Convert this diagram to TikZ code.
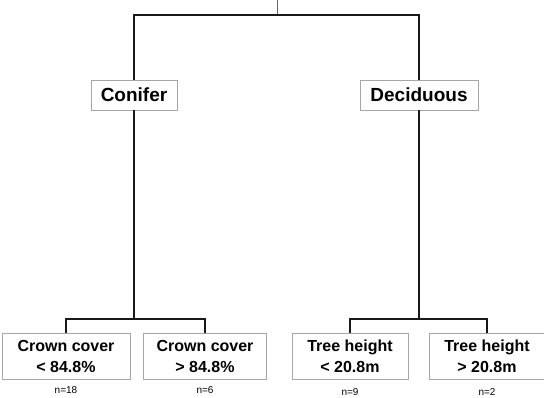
\documentclass[tikz,border=0pt]{standalone}
\usepackage{fontspec}
\setmainfont{Liberation Sans}
\usepackage{tikz}
\usetikzlibrary{positioning}

\tikzset{
  branch/.style={line width=2.6pt,black!90},
  catbox/.style={draw=black!35,line width=0.8pt,fill=white,minimum height=30pt,inner sep=0pt,font=\fontsize{19}{21}\selectfont\bfseries},
  leafbox/.style={draw=black!35,line width=0.8pt,fill=white,minimum height=46pt,inner sep=0pt,align=center,font=\fontsize{16}{21}\selectfont\bfseries},
  count/.style={font=\fontsize{10}{12}\selectfont,inner sep=0pt}
}

\begin{document}
\begin{tikzpicture}[x=1pt,y=-1pt]
      \useasboundingbox (0,0) rectangle (544,397);

      % root and splits
      \coordinate (root) at (277,0);
      \coordinate (split) at (277,15);
      \coordinate (csplit) at (134,319);
      \coordinate (dsplit) at (419,319);

      % first level
      \node[catbox,minimum width=86pt] (conifer) at (134,95) {Conifer};
      \node[catbox,minimum width=118pt] (decid) at (419,95) {Deciduous};

      % leaves
      \node[leafbox,minimum width=128pt] (cc1) at (66,356) {Crown cover\\< 84.8\%};
      \node[leafbox,minimum width=123pt] (cc2) at (205,356) {Crown cover\\> 84.8\%};
      \node[leafbox,minimum width=116pt] (th1) at (350,356) {Tree height\\< 20.8m};
      \node[leafbox,minimum width=115pt] (th2) at (487,356) {Tree height\\> 20.8m};

      % sample sizes
      \node[count] at (66,390) {n=18};
      \node[count] at (205,390) {n=6};
      \node[count] at (350,392) {n=9};
      \node[count] at (487,392) {n=2};

      % branches
      \draw[black!60,line width=0.8pt] (root) -- (split);
      \draw[branch] (split) -| (conifer.north);
      \draw[branch] (split) -| (decid.north);
      \draw[branch] (conifer.south) -- (csplit);
      \draw[branch] (decid.south) -- (dsplit);
      \draw[branch] (csplit) -| (cc1.north);
      \draw[branch] (csplit) -| (cc2.north);
      \draw[branch] (dsplit) -| (th1.north);
      \draw[branch] (dsplit) -| (th2.north);
    \end{tikzpicture}
\end{document}
